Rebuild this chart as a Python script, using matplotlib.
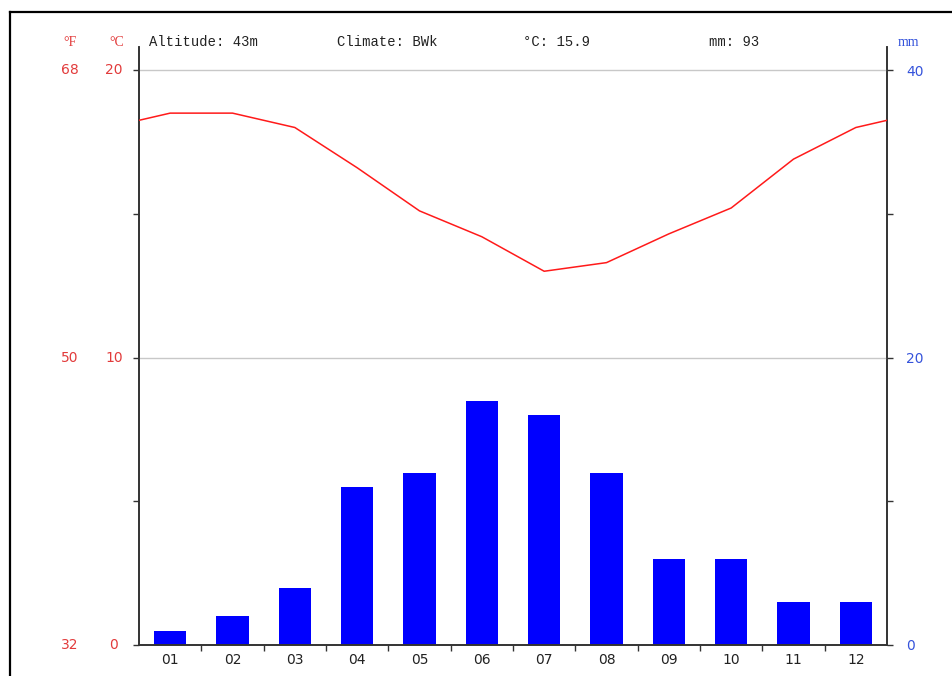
import numpy as np
import matplotlib
matplotlib.use("Agg")
import matplotlib.pyplot as plt
from matplotlib.lines import Line2D
import matplotlib.transforms as mtransforms

months = ["01", "02", "03", "04", "05", "06", "07", "08", "09", "10", "11", "12"]
temp_c = [18.5, 18.5, 18.0, 16.6, 15.1, 14.2, 13.0, 13.3, 14.3, 15.2, 16.9, 18.0]
precip_mm = [1, 2, 4, 11, 12, 17, 16, 12, 6, 6, 3, 3]

temp_ticks = [0, 10, 20]
fahr_labels = ["32", "50", "68"]
mm_ticks = [0, 20, 40]

header = [
    (149, "Altitude: 43m"),
    (337, "Climate: BWk"),
    (523, "°C: 15.9"),
    (709, "mm: 93"),
]

RED = "#e23b3b"
BLUE = "#3553db"
W, H = 952, 676

fig = plt.figure(figsize=(W / 100, H / 100), dpi=100)
ax = fig.add_axes([139 / W, (H - 645) / H, (887 - 139) / W, (645 - 47) / H])
ax2 = ax.twinx()

x = np.arange(len(months))

# temperature line, wrapped at the edges
edge = (temp_c[0] + temp_c[-1]) / 2
tx = np.concatenate([[-0.5], x, [11.5]])
ty = np.concatenate([[edge], temp_c, [edge]])
ax.plot(tx, ty, color="#ff1a1a", linewidth=1.1, zorder=3)

ax2.bar(x, precip_mm, width=0.52, color="#0000ff", zorder=2)

top_c = 20 + 23 / 28.75
ax.set_ylim(0, top_c)
ax2.set_ylim(0, top_c * 2)
ax.set_xlim(-0.5, 11.5)

for v in [10, 20]:
    ax.axhline(v, color="#c8c8c8", linewidth=1, zorder=1)

# left axis: °C and °F labels as centred columns
ax.set_yticks(temp_ticks)
ax.set_yticklabels([])
ax.set_yticks([5, 15], minor=True)
ax.tick_params(axis="y", which="both", length=4, width=1, color="#333333")

trans = mtransforms.blended_transform_factory(fig.transFigure, ax.transData)
for t, f in zip(temp_ticks, fahr_labels):
    ax.text(70 / W, t, f, transform=trans, color=RED, fontsize=10,
            ha="center", va="center")
    ax.text(114 / W, t, str(t), transform=trans, color=RED, fontsize=10,
            ha="center", va="center")

# right axis: mm
ax2.set_yticks(mm_ticks)
ax2.set_yticklabels([str(m) for m in mm_ticks], color=BLUE, fontsize=10)
ax2.set_yticks([10, 30], minor=True)
ax2.tick_params(axis="y", which="both", length=4, width=1, pad=10, color="#333333")

# x axis
ax.set_xticks(np.arange(0.5, 11.5, 1))
ax.set_xticklabels([])
ax.set_xticks(x, minor=True)
ax.set_xticklabels(months, minor=True, fontsize=10, color="#222222")
ax.tick_params(axis="x", which="major", length=4, width=1, color="#333333")
ax.tick_params(axis="x", which="minor", length=0, pad=6)

for a in (ax, ax2):
    a.spines["top"].set_visible(False)
    for s in ["left", "right", "bottom"]:
        a.spines[s].set_color("#333333")
        a.spines[s].set_linewidth(1.2)
ax.set_zorder(ax2.get_zorder() + 1)
ax.patch.set_visible(False)

# header texts
hy = 1 - 42 / H
for px, s in header:
    fig.text(px / W, hy, s, fontsize=10, family="Liberation Mono",
             color="#222222", va="center", ha="left")
fig.text(70 / W, hy, "°F", fontsize=10, family="Liberation Serif", color=RED,
         va="center", ha="center")
fig.text(117 / W, hy, "°C", fontsize=10, family="Liberation Serif", color=RED,
         va="center", ha="center")
fig.text(908 / W, hy, "mm", fontsize=10, family="Liberation Serif", color=BLUE,
         va="center", ha="center")

# outer frame
fig.add_artist(Line2D([9.5 / W, 9.5 / W], [0, 1 - 12 / H], transform=fig.transFigure,
                      color="black", linewidth=1.6))
fig.add_artist(Line2D([9.5 / W, 1], [1 - 12 / H, 1 - 12 / H], transform=fig.transFigure,
                      color="black", linewidth=1.6))

fig.savefig("out.png", dpi=100)
